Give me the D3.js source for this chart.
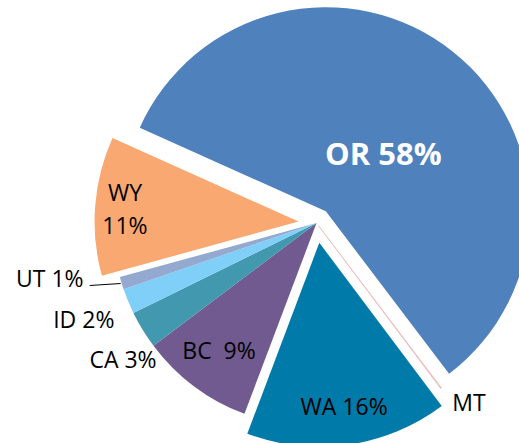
<!DOCTYPE html>
<html>
<head>
<meta charset="utf-8">
<script src="https://cdnjs.cloudflare.com/ajax/libs/d3/7.8.5/d3.min.js"></script>
<style>
  body { margin: 0; background: #fff; }
  text { font-family: "Open Sans", sans-serif; }
</style>
</head>
<body>
<div id="chart"></div>
<script>
// slice order, clockwise from OR
var states = ["OR", "MT", "WA", "BC", "CA", "ID", "UT", "WY"];
var shares = [58, 0.08, 16, 9, 3, 2, 1, 11];
var labels = ["OR 58%", "MT", "WA 16%", "BC  9%", "CA 3%", "ID 2%", "UT 1%", "WY\n11%"];

var colors = {
    OR: "#4f81bd", MT: "#ecc4c4", WA: "#007aa8", BC: "#705a8f",
    CA: "#4198af", ID: "#7fcff8", UT: "#94a9d0", WY: "#f9a871"
};
// how far each slice is pulled out
var explode = {OR: 15, MT: 3, WA: 20, BC: 0, CA: 0, ID: 0, UT: 0, WY: 18};
// label placement: radius from pie centre, angle nudge (deg)
var labelLayout = {
    OR: [96, 5.6], MT: [236, -3.2], WA: [166, -0.5], BC: [161, 0.4],
    CA: [237, -3.7], ID: [252, 0], UT: [0, 0], WY: [174, -0.5]
};

function piechart(selector){

    var width = 519, height = 443,
        cx = 316.5, cy = 223, radius = 204,
        start = 294.2 * Math.PI / 180;

    d3.select(selector).html(null)

    var svg = d3.select(selector)
        .append("svg")
        .attr("width", width)
        .attr("height", height)

    var pie = d3.pie()
        .sort(null)
        .value(function(d){ return d.v; })
        .startAngle(start)
        .endAngle(start + 2 * Math.PI)

    var rows = states.map(function(s, i){ return {s: s, v: shares[i], label: labels[i]}; });
    var arcs = pie(rows);

    var arc = d3.arc().innerRadius(0).outerRadius(radius);

    function off(d, r){
        var a = (d.startAngle + d.endAngle) / 2;
        return [Math.sin(a) * r, -Math.cos(a) * r];
    }

    var g = svg.append("g").attr("transform", "translate(" + cx + "," + cy + ")");

    g.selectAll(".slice")
        .data(arcs).enter().append("path")
        .attr("class", "slice")
        .attr("d", arc)
        .attr("transform", function(d){
            var o = off(d, explode[d.data.s]);
            return "translate(" + o[0] + "," + o[1] + ")";
        })
        .attr("fill", function(d){ return colors[d.data.s]; })
        .attr("stroke", function(d){ return d.data.s == "MT" ? "#e0a8a8" : "none"; })
        .attr("stroke-width", 0.5)

    // labels
    arcs.forEach(function(d){
        var s = d.data.s;
        var lay = labelLayout[s];
        var a = (d.startAngle + d.endAngle) / 2 + lay[1] * Math.PI / 180;

        if(s == "UT"){
            var ex = Math.sin(a) * (radius + 1), ey = -Math.cos(a) * (radius + 1);
            g.append("path")
                .attr("d", "M" + ex + "," + ey + "L" + (ex - 31) + "," + (ey + 2))
                .attr("stroke", "#000").attr("stroke-width", 1.2).attr("fill", "none")
            g.append("text")
                .attr("x", ex - 37).attr("y", ey + 3)
                .attr("text-anchor", "end")
                .attr("font-size", 23)
                .text(d.data.label)
            return;
        }

        var lx = Math.sin(a) * lay[0], ly = -Math.cos(a) * lay[0];
        var o = off(d, explode[s]);
        if(s == "WA" || s == "WY"){ lx += o[0]; ly += o[1]; }

        var lines = d.data.label.split("\n");
        var lh = 33;
        var t = g.append("text")
            .attr("text-anchor", "middle")
            .attr("font-size", s == "OR" ? 31 : 23)
            .attr("font-weight", s == "OR" ? "bold" : "normal")
            .attr("fill", s == "OR" ? "#fff" : "#000")
            .attr("xml:space", "preserve")
        lines.forEach(function(line, i){
            t.append("tspan")
                .attr("x", lx)
                .attr("y", ly + (i - (lines.length - 1) / 2) * lh)
                .attr("dy", "0.35em")
                .text(line)
        });
    });
}

piechart("#chart")
</script>
</body>
</html>
